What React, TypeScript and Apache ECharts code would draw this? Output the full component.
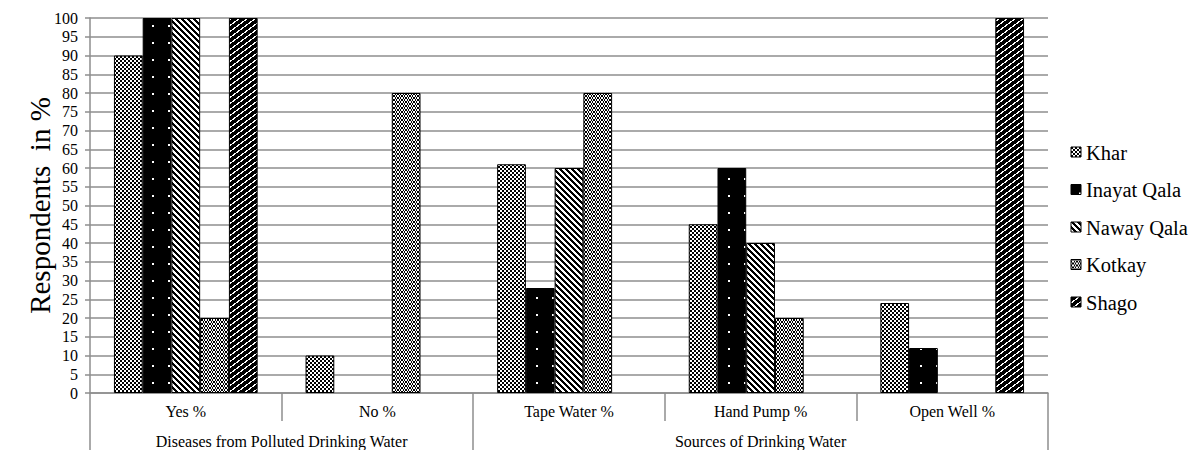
import React, { useEffect, useRef } from "react";
import * as echarts from "echarts";

const categories = ["Yes %", "No %", "Tape Water %", "Hand Pump %", "Open Well %"];
const groupNames = ["Diseases from Polluted Drinking Water", "Sources of Drinking Water"];
const seriesNames = ["Khar", "Inayat Qala", "Naway Qala", "Kotkay", "Shago"];

const khar = [90, 10, 61, 45, 24];
const inayatQala = [100, 0, 28, 60, 12];
const nawayQala = [100, 0, 60, 40, 0];
const kotkay = [20, 80, 80, 20, 0];
const shago = [100, 0, 0, 0, 100];

const yTicks = [0, 5, 10, 15, 20, 25, 30, 35, 40, 45, 50, 55, 60, 65, 70, 75, 80, 85, 90, 95, 100];

const FONT = "'Liberation Serif', 'Times New Roman', serif";
const GRID_GRAY = "#8e8e8e";

// Build a small monochrome tile on a canvas for use as a repeating fill.
function tile(w: number, h: number, isBlack: (x: number, y: number) => boolean) {
  const c = document.createElement("canvas");
  c.width = w;
  c.height = h;
  const ctx = c.getContext("2d")!;
  ctx.fillStyle = "#ffffff";
  ctx.fillRect(0, 0, w, h);
  ctx.fillStyle = "#000000";
  for (let y = 0; y < h; y++) {
    for (let x = 0; x < w; x++) {
      if (isBlack(x, y)) ctx.fillRect(x, y, 1, 1);
    }
  }
  return { image: c, repeat: "repeat" as const };
}

function makeFills() {
  // small checkerboard
  const checker = tile(4, 4, (x, y) => (Math.floor(x / 2) + Math.floor(y / 2)) % 2 === 0);
  // solid black with sparse white dots
  const dotted = tile(16, 17, (x, y) => !((x === 8 || x === 9) && (y === 8 || y === 9)));
  // wide downward diagonal stripes
  const stripes = tile(6, 6, (x, y) => (((x - y) % 6) + 6) % 6 < 3);
  // small rings, staggered column to column
  const ringBase = [
    [0, 1, 1, 0],
    [1, 0, 0, 1],
    [1, 0, 0, 1],
    [0, 1, 1, 0],
  ];
  const rings = tile(8, 4, (x, y) => {
    const yy = x >= 4 ? (y + 2) % 4 : y;
    return ringBase[yy][x % 4] === 1;
  });
  // black with white upward dashes
  const whiteDash = new Set([
    "6,0", "7,0", "5,1", "6,1", "4,2", "5,2",
    "2,3", "3,3", "1,4", "2,4", "0,5", "1,5",
  ]);
  const dashes = tile(8, 6, (x, y) => !whiteDash.has(`${x},${y}`));
  return [checker, dotted, stripes, rings, dashes];
}

// Legend key: patterned swatch plus serif label for each series.
const LEGEND_X = 1071;
const LEGEND_Y = 147;
const LEGEND_STEP = 37.5;

export default function App() {
  const ref = useRef<HTMLDivElement>(null);

  useEffect(() => {
    if (!ref.current) return;
    const chart = echarts.init(ref.current, null, { renderer: "svg" });
    const fills = makeFills();
    const values = [khar, inayatQala, nawayQala, kotkay, shago];

    const legendItems = seriesNames.map((name, i) => ({
      type: "group",
      x: LEGEND_X,
      y: LEGEND_Y + i * LEGEND_STEP,
      children: [
        {
          type: "rect",
          shape: { x: 0, y: 0, width: 10, height: 10 },
          style: { fill: fills[i], stroke: "#000", lineWidth: 1 },
        },
        {
          type: "text",
          x: 15,
          y: 5.5,
          style: {
            text: name,
            fill: "#000",
            fontFamily: FONT,
            fontSize: 20.5,
            verticalAlign: "middle",
            align: "left",
          },
        },
      ],
    }));

    const option: any = {
      animation: false,
      backgroundColor: "#ffffff",
      textStyle: { fontFamily: FONT },
      grid: { left: 90, right: 148, top: 18, bottom: 57, containLabel: false },
      graphic: legendItems,
      xAxis: [
        {
          type: "category",
          data: categories,
          position: "bottom",
          axisLine: { show: true, lineStyle: { color: GRID_GRAY, width: 1.5 } },
          axisTick: { show: true, interval: 0, alignWithLabel: false, length: 28, lineStyle: { color: GRID_GRAY, width: 1.5 } },
          axisLabel: { interval: 0, color: "#000", fontFamily: FONT, fontSize: 16, margin: 10 },
          splitLine: { show: false },
        },
        {
          type: "value",
          position: "bottom",
          offset: 28,
          min: 0,
          max: categories.length,
          axisLine: { show: false },
          splitLine: { show: false },
          axisTick: { show: true, customValues: [0, 2, categories.length], length: 29, lineStyle: { color: GRID_GRAY, width: 1.5 } },
          axisLabel: {
            customValues: [1, 3.5],
            formatter: (v: number) => (v < 2 ? groupNames[0] : groupNames[1]),
            color: "#000",
            fontFamily: FONT,
            fontSize: 16,
            margin: 12,
          },
        },
      ],
      yAxis: {
        type: "value",
        min: yTicks[0],
        max: yTicks[yTicks.length - 1],
        interval: 5,
        name: "Respondents  in %",
        nameLocation: "middle",
        nameGap: 36,
        nameMoveOverlap: false,
        nameTextStyle: { fontFamily: FONT, fontSize: 29, color: "#000" },
        axisLine: { show: true, lineStyle: { color: GRID_GRAY, width: 1.5 } },
        axisTick: { show: true, length: 5, lineStyle: { color: GRID_GRAY, width: 1.5 } },
        axisLabel: { color: "#000", fontFamily: FONT, fontSize: 16, margin: 12 },
        splitLine: { show: true, lineStyle: { color: GRID_GRAY, width: 1.5 } },
      },
      series: seriesNames.map((name, i) => ({
        name,
        type: "bar",
        xAxisIndex: 0,
        barGap: "0%",
        barCategoryGap: "25%",
        data: values[i].map((v) => (v === 0 ? null : v)),
        itemStyle: { color: fills[i], borderColor: "#000", borderWidth: 1 },
      })),
    };

    chart.setOption(option);
    return () => chart.dispose();
  }, []);

  return (
    <div
      ref={ref}
      style={{ position: "absolute", left: 0, top: 0, width: 1196, height: 450, overflow: "hidden" }}
    />
  );
}
